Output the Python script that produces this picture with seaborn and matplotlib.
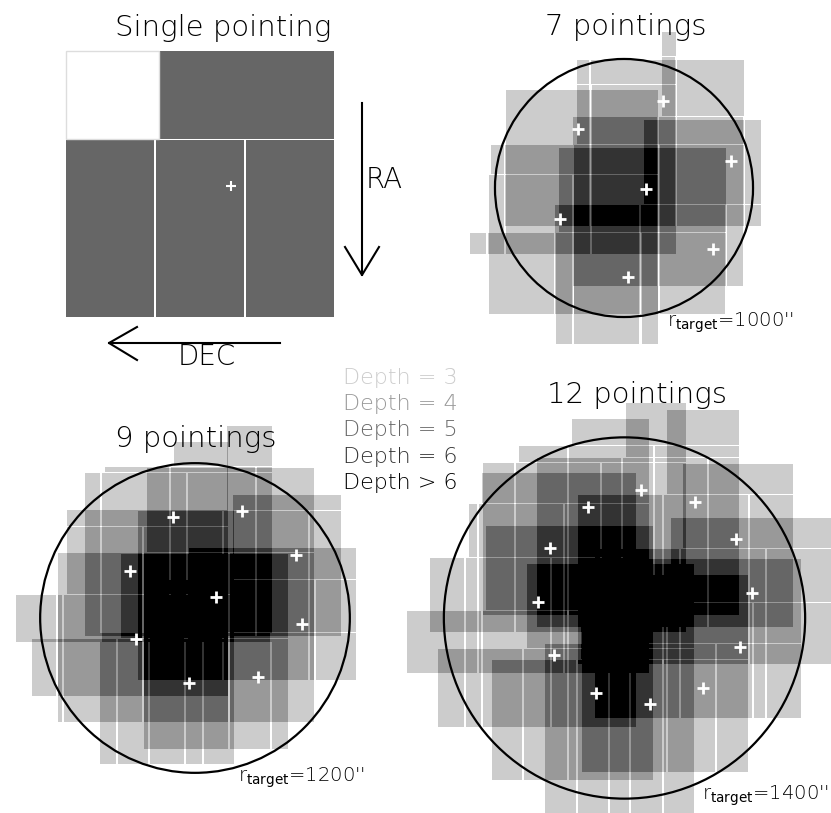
import numpy as np
import matplotlib
matplotlib.use("Agg")
import matplotlib.pyplot as plt
import seaborn as sns
from matplotlib.colors import ListedColormap
from matplotlib.patches import Circle, Rectangle

W, H = 831, 813

# ---- footprint of one pointing (arcsec, relative to pointing centre; x right, y down)
chip_x0 = [-533, -1221, -555, 111]
chip_x1 = [762, -570, 96, 762]
chip_y0 = [-999, -340, -340, -340]
chip_y1 = [-348, 969, 969, 969]

# ---- single pointing panel
single_center = (231, 186)     # figure px
single_scale = 7.4             # arcsec per px
single_depth = 5

# ---- multi-pointing panels (offsets of pointings from target centre, arcsec)
multi_scale = 7.75
p7_x = [300, -359, 827, 171, -496, 687, 29]
p7_y = [-677, -455, -212, 10, 238, 470, 692]
p9_x = [-168, 367, 780, -506, 163, 827, -460, 486, -44]
p9_y = [-780, -829, -488, -364, -160, 44, 165, 457, 506]
p12_x = [128, -285, 544, -575, 862, -673, 990, -544, 895, -221, 606, 198]
p12_y = [-992, -863, -897, -545, -610, -126, -196, 287, 222, 579, 540, 669]

panel_centers = [(624, 188), (195, 618), (624.5, 618)]
panel_boxes = [(440, 831, 30, 360), (0, 400, 415, 813), (407, 831, 403, 813)]
panel_radius = [1000, 1200, 1400]
panel_titles = ["7 pointings", "9 pointings", "12 pointings"]
panel_xs = [p7_x, p9_x, p12_x]
panel_ys = [p7_y, p9_y, p12_y]

depth_labels = ["Depth = 3", "Depth = 4", "Depth = 5", "Depth = 6", "Depth > 6"]
depth_colors = ["#cccccc", "#999999", "#666666", "#333333", "#000000"]


def add_rect(grid, cx, cy, x0, x1, y0, y1, scale, n=1):
    px0 = max(int(round(cx + x0 / scale)), 0)
    px1 = min(int(round(cx + x1 / scale)), W)
    py0 = max(int(round(cy + y0 / scale)), 0)
    py1 = min(int(round(cy + y1 / scale)), H)
    if px1 > px0 and py1 > py0:
        grid[py0:py1, px0:px1] += n


depth = np.zeros((H, W), dtype=int)
for i in range(len(chip_x0)):
    add_rect(depth, single_center[0], single_center[1], chip_x0[i], chip_x1[i],
             chip_y0[i], chip_y1[i], single_scale, single_depth)

for (cx, cy), box, xs, ys in zip(panel_centers, panel_boxes, panel_xs, panel_ys):
    g = np.zeros((H, W), dtype=int)
    for px, py in zip(xs, ys):
        ccx = cx + px / multi_scale
        ccy = cy + py / multi_scale
        for i in range(len(chip_x0)):
            add_rect(g, ccx, ccy, chip_x0[i], chip_x1[i], chip_y0[i], chip_y1[i], multi_scale, 1)
    bx0, bx1, by0, by1 = box
    depth[by0:by1, bx0:bx1] += g[by0:by1, bx0:bx1]

depth = np.clip(depth, 0, 7)
cmap = ListedColormap(["#ffffff", "#ffffff", "#ffffff"] + depth_colors)

fig = plt.figure(figsize=(W / 100, H / 100), dpi=100)
ax = fig.add_axes([0, 0, 1, 1])
sns.heatmap(depth, cmap=cmap, vmin=-0.5, vmax=7.5, cbar=False,
            xticklabels=False, yticklabels=False, ax=ax, rasterized=True)
ax.set_xlim(0, W)
ax.set_ylim(H, 0)
ax.axis("off")

font = dict(family="DejaVu Sans", color="black", fontweight="light")

# single pointing extras
ax.add_patch(Rectangle((66, 51), 93, 88, fill=False, ec="#dddddd", lw=1))
ax.scatter([single_center[0]], [single_center[1]], marker="+", s=60, c="white", linewidths=1.5, zorder=5)
ax.text(223, 36, "Single pointing", fontsize=21, ha="center", va="baseline", **font)
ax.plot([362, 362], [103, 275], color="black", lw=1.5)
ax.plot([345, 362, 379], [247, 275, 247], color="black", lw=1.5)
ax.text(366, 180, "RA", fontsize=20, ha="left", va="center", **font)
ax.plot([280, 109], [343, 343], color="black", lw=1.5)
ax.plot([137, 109, 137], [327, 343, 360], color="black", lw=1.5)
ax.text(207, 357, "DEC", fontsize=20, ha="center", va="center", **font)

title_pos = [(626, 35), (196, 447), (637, 403)]
rlab_pos = [(667, 327), (238, 782), (702, 800)]
for (cx, cy), r, xs, ys, t, tp, rp in zip(panel_centers, panel_radius, panel_xs, panel_ys,
                                           panel_titles, title_pos, rlab_pos):
    ax.add_patch(Circle((cx, cy), r / multi_scale, fill=False, ec="black", lw=1.6, zorder=4))
    ax.scatter(cx + np.array(xs) / multi_scale, cy + np.array(ys) / multi_scale,
               marker="+", s=80, c="white", linewidths=2.0, zorder=5)
    ax.text(tp[0], tp[1], t, fontsize=21, ha="center", va="baseline", **font)
    ax.text(rp[0], rp[1], r"r$_{\rm target}$=%d''" % r, fontsize=14, ha="left", va="baseline",
            **font)

for i, (lab, col) in enumerate(zip(depth_labels, depth_colors)):
    ax.text(343, 378 + 26.2 * i, lab, fontsize=16, color=col, ha="left", va="center",
            family="DejaVu Sans", fontweight="light")

fig.savefig("out.png", dpi=100)
